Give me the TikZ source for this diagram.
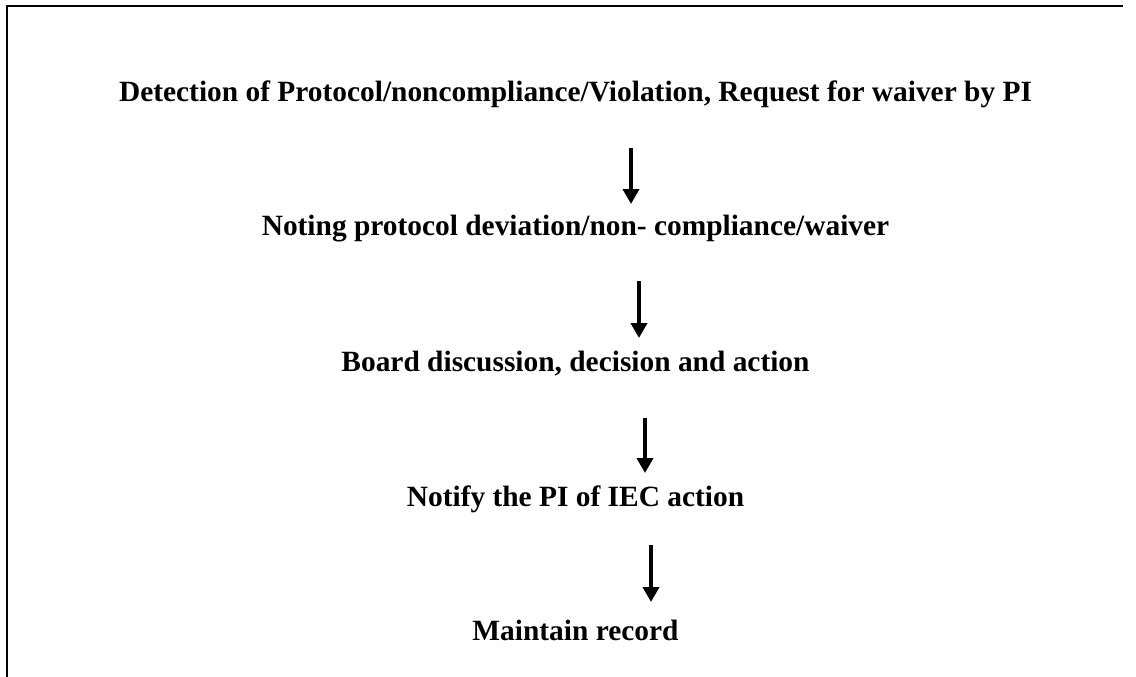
\documentclass[tikz,border=0pt]{standalone}
\usepackage{fontspec}
\setmainfont{Liberation Serif}
\usetikzlibrary{arrows.meta}
\tikzset{
  steptext/.style={font=\fontsize{29.4}{34}\selectfont\bfseries, inner sep=0pt, anchor=base},
  flowarrow/.style={line width=3.7pt, -{Triangle[length=15pt,width=16pt]}},
  frameline/.style={line width=2pt, line cap=rect}
}
\begin{document}
\begin{tikzpicture}[x=1pt,y=-1pt]
  \useasboundingbox (0,0) rectangle (1136,677);
  % open frame: top and left edges only
  \coordinate (fbl) at (6.5,677);
  \coordinate (ftl) at (6.5,6);
  \coordinate (ftr) at (1122,6);
  \draw[frameline] (fbl) -- (ftl) -- (ftr);

  % steps of the procedure, centred on one axis
  \node[steptext] (s1) at (575.5,102) {Detection of Protocol/noncompliance/Violation, Request for waiver by PI};
  \node[steptext] (s2) at (575.5,235) {Noting protocol deviation/non- compliance/waiver};
  \node[steptext] (s3) at (575.5,371) {Board discussion, decision and action};
  \node[steptext] (s4) at (575.5,506) {Notify the PI of IEC action};
  \node[steptext] (s5) at (575.5,640) {Maintain record};

  % arrows between the steps
  \coordinate (a1s) at (631,148); \coordinate (a1e) at (631,204);
  \coordinate (a2s) at (639,281); \coordinate (a2e) at (639,338);
  \coordinate (a3s) at (645,418); \coordinate (a3e) at (645,473);
  \coordinate (a4s) at (651,545); \coordinate (a4e) at (651,602);
  \draw[flowarrow] (a1s) -- (a1e);
  \draw[flowarrow] (a2s) -- (a2e);
  \draw[flowarrow] (a3s) -- (a3e);
  \draw[flowarrow] (a4s) -- (a4e);
\end{tikzpicture}
\end{document}
